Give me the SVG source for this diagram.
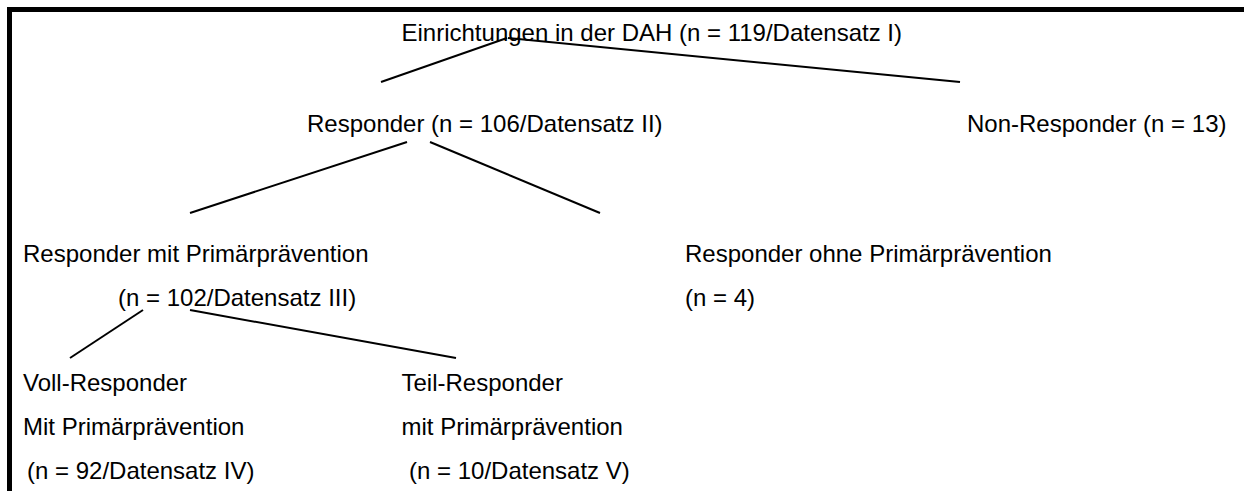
<svg xmlns="http://www.w3.org/2000/svg" width="1244" height="491" viewBox="0 0 1244 491">
<style>
text{font-family:"Liberation Sans",Arial,sans-serif;font-size:24px;fill:#000}
.c line{stroke:#000;stroke-width:2;fill:none}
</style>
<rect width="1244" height="491" fill="#fff"/>
<path d="M9.5,491 V9.5 H1244" fill="none" stroke="#000" stroke-width="5"/>
<g class="c" id="connectors">
<line x1="381" y1="82" x2="507" y2="38"/>
<line x1="508" y1="38" x2="960" y2="82"/>
<line x1="407" y1="142" x2="190" y2="213"/>
<line x1="430" y1="142" x2="600" y2="213"/>
<line x1="143" y1="310" x2="70" y2="358"/>
<line x1="190" y1="310" x2="456" y2="358"/>
</g>
<g id="root"><text x="401.5" y="41">Einrichtungen in der DAH (n = 119/Datensatz I)</text></g>
<g id="responder"><text x="307" y="132">Responder (n = 106/Datensatz II)</text></g>
<g id="nonresponder"><text x="967" y="132">Non-Responder (n = 13)</text></g>
<g id="mitpp"><text x="23" y="262">Responder mit Primärprävention</text><text x="118" y="306">(n = 102/Datensatz III)</text></g>
<g id="ohnepp"><text x="685" y="262">Responder ohne Primärprävention</text><text x="685" y="306">(n = 4)</text></g>
<g id="voll"><text x="23" y="391">Voll-Responder</text><text x="23" y="435">Mit Primärprävention</text><text x="27" y="479">(n = 92/Datensatz IV)</text></g>
<g id="teil"><text x="401.5" y="391">Teil-Responder</text><text x="401.5" y="435">mit Primärprävention</text><text x="409" y="479">(n = 10/Datensatz V)</text></g>
</svg>
